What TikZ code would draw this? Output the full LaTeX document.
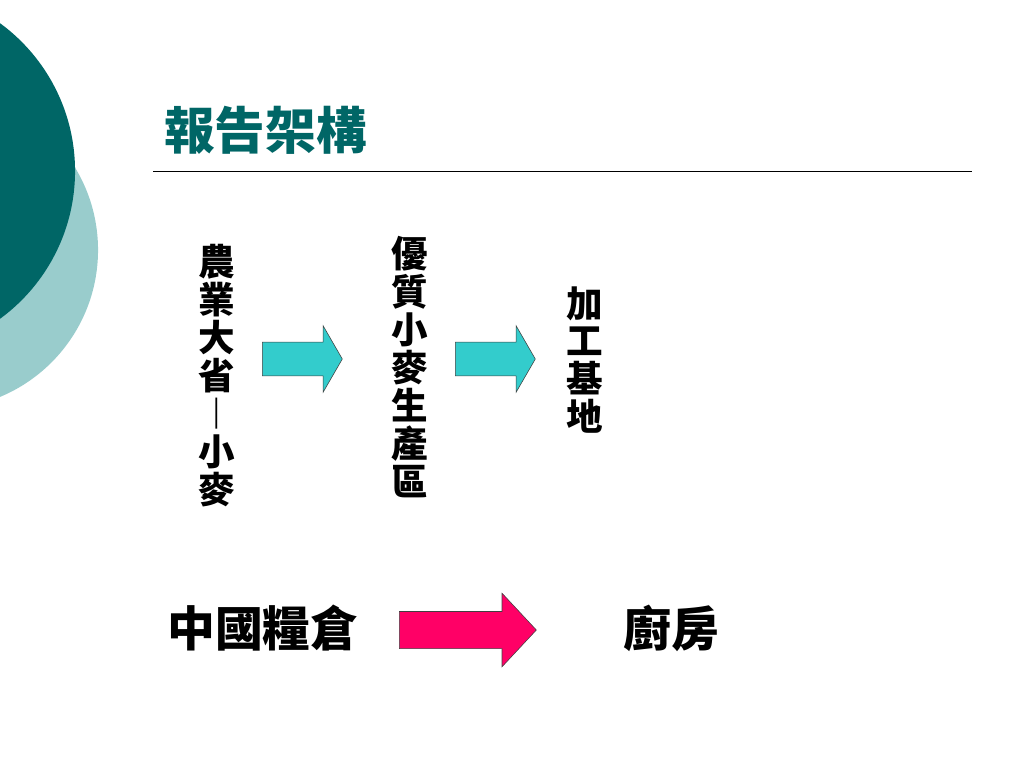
\documentclass[tikz,border=0pt]{standalone}
\usepackage{fontspec}
\newfontfamily\cjkfont{Noto Sans CJK TC}
\usetikzlibrary{shapes.arrows}
\definecolor{darkteal}{HTML}{006666}
\definecolor{paleteal}{HTML}{99CCCC}
\definecolor{arrowcyan}{HTML}{33CCCC}
\definecolor{arrowpink}{HTML}{FF0066}

\begin{document}
\begin{tikzpicture}
  [x=0.025cm, y=-0.025cm,
   column/.style ={align=center, inner sep=0pt, font=\cjkfont\bfseries\fontsize{26pt}{27pt}\selectfont},
   caption/.style={anchor=west, inner sep=0pt, font=\cjkfont\bfseries\fontsize{34pt}{36pt}\selectfont},
   blockarrow/.style={single arrow, anchor=tail, draw=black!75, thin, inner xsep=0pt}];
  \useasboundingbox (0,0) rectangle (1024,768);
  \clip (0,0) rectangle (1024,768);
  \fill [paleteal] (-61,250) circle [radius=3.975cm];
  \fill [darkteal] (-108,171) circle [radius=4.575cm];
  \node [anchor=west, inner sep=0pt, text=darkteal, font=\cjkfont\bfseries\fontsize{36pt}{38pt}\selectfont] (title) at (164,130) {報告架構};
  \coordinate (rulestart) at (153,171);
  \coordinate (ruleend) at (972,171);
  \draw [thin] (rulestart) -- (ruleend);
  % upper row
  \node [column] (province) at (217,376) {農\\業\\大\\省\\︱\\小\\麥};
  \node [column] (wheatzone) at (410,367) {優\\質\\小\\麥\\生\\產\\區};
  \node [column] (processing) at (585,360) {加\\工\\基\\地};
  \node [blockarrow, fill=arrowcyan, inner ysep=4.125mm, minimum height=20mm, single arrow head extend=4.125mm, single arrow tip angle=120] (arrowone) at (262,359) {};
  \node [blockarrow, fill=arrowcyan, inner ysep=4.125mm, minimum height=20mm, single arrow head extend=4.125mm, single arrow tip angle=120] (arrowtwo) at (455,359) {};
  % lower row
  \node [caption] (granary) at (167,628) {中國糧倉};
  \node [caption] (kitchen) at (623,628) {廚房};
  \node [blockarrow, fill=arrowpink, inner ysep=4.5625mm, minimum height=34.25mm, single arrow head extend=4.5625mm, single arrow tip angle=94] (arrowthree) at (399,630) {};
\end{tikzpicture}
\end{document}
